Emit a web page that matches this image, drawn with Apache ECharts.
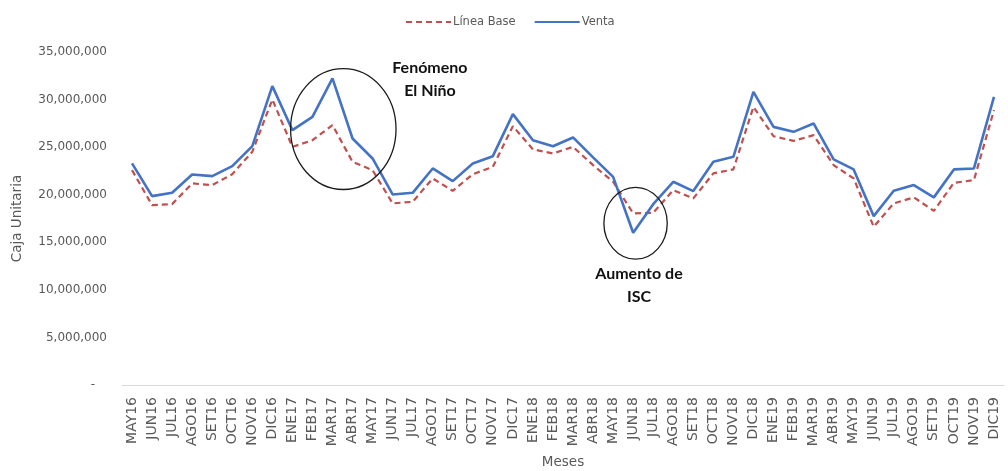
<!DOCTYPE html>
<html>
<head>
<meta charset="utf-8">
<script src="https://cdn.jsdelivr.net/npm/echarts@6/dist/echarts.min.js"></script>
<style>
  html, body { margin: 0; padding: 0; background: #ffffff; }
  #chart { width: 1008px; height: 471px; }
</style>
</head>
<body>
<div id="chart"></div>
<script>
// Meses (eje X)
const meses = [
  'MAY16','JUN16','JUL16','AGO16','SET16','OCT16','NOV16','DIC16',
  'ENE17','FEB17','MAR17','ABR17','MAY17','JUN17','JUL17','AGO17','SET17','OCT17','NOV17','DIC17',
  'ENE18','FEB18','MAR18','ABR18','MAY18','JUN18','JUL18','AGO18','SET18','OCT18','NOV18','DIC18',
  'ENE19','FEB19','MAR19','ABR19','MAY19','JUN19','JUL19','AGO19','SET19','OCT19','NOV19','DIC19'
];

// Línea Base (cajas unitarias)
const lineaBase = [
  22580000, 18910000, 19010000, 21190000, 21010000, 22160000, 24510000, 30010000,
  25030000, 25730000, 27310000, 23460000, 22580000, 19090000, 19250000, 21710000, 20410000, 22160000, 22930000, 27210000,
  24760000, 24340000, 25030000, 23110000, 21360000, 18040000, 18100000, 20480000, 19610000, 22240000, 22660000, 29230000,
  26150000, 25660000, 26260000, 23110000, 21710000, 16630000, 19090000, 19720000, 18310000, 21250000, 21530000, 28890000
];

// Venta (cajas unitarias)
const venta = [
  23290000, 19850000, 20200000, 22130000, 21950000, 23000000, 25100000, 31410000,
  26790000, 28180000, 32220000, 25910000, 23810000, 20030000, 20200000, 22760000, 21430000, 23290000, 24050000, 28470000,
  25730000, 25100000, 26020000, 23920000, 21880000, 16000000, 19010000, 21360000, 20380000, 23460000, 23980000, 30810000,
  27130000, 26610000, 27490000, 23710000, 22660000, 17750000, 20410000, 21010000, 19720000, 22660000, 22760000, 30280000
];

// Eje Y
const yMin = 0;
const yMax = 35000000;
const yStep = 5000000;

// Notas sobre el gráfico, ubicadas en coordenadas de datos (índice de mes, valor)
const elipses = [
  { idx: 10.54, val: 26900000, rxIdx: 2.63, ryVal: 6350000 },
  { idx: 25.12, val: 17000000, rxIdx: 1.58, ryVal: 3780000 }
];
const notas = [
  { idx: 14.86, val: 32150000, text: 'Fenómeno\nEl Niño' },
  { idx: 25.29, val: 10450000, text: 'Aumento de\nISC' }
];

const gris = '#595959';
const chart = echarts.init(document.getElementById('chart'), null, { renderer: 'canvas' });

chart.setOption({
  animation: false,
  backgroundColor: '#ffffff',
  textStyle: { fontFamily: 'DejaVu Sans' },
  legend: {
    left: 400,
    top: 11,
    itemWidth: 45,
    itemHeight: 14,
    itemGap: 18,
    // sólo la línea en la muestra de la leyenda, sin símbolo
    itemStyle: { opacity: 0 },
    textStyle: { color: gris, fontSize: 11.5, fontFamily: 'DejaVu Sans', padding: [0, 0, 0, -3] },
    data: ['Línea Base', 'Venta']
  },
  grid: { left: 122, right: 4, top: 52, bottom: 86, outerBoundsMode: 'none', containLabel: false },
  xAxis: {
    type: 'category',
    data: meses,
    boundaryGap: true,
    name: 'Meses',
    nameLocation: 'middle',
    nameGap: 70,
    nameTextStyle: { color: gris, fontSize: 13.5, fontFamily: 'DejaVu Sans' },
    axisLine: { show: true, lineStyle: { color: '#d9d9d9', width: 1 } },
    axisTick: { show: false },
    axisLabel: { interval: 0, rotate: 90, margin: 12, color: gris, fontSize: 14, fontFamily: 'DejaVu Sans' },
    splitLine: { show: false }
  },
  yAxis: {
    type: 'value',
    min: yMin,
    max: yMax,
    interval: yStep,
    name: 'Caja Unitaria',
    nameLocation: 'middle',
    nameGap: 98,
    nameTextStyle: { color: gris, fontSize: 13.5, fontFamily: 'DejaVu Sans' },
    axisLine: { show: false },
    axisTick: { show: false },
    splitLine: { show: false },
    axisLabel: {
      margin: 15,
      color: gris,
      fontSize: 12,
      fontFamily: 'DejaVu Sans',
      formatter: function (v) {
        return v === 0 ? '{z|-}' : v.toLocaleString('en-US');
      },
      rich: { z: { padding: [0, 12, 0, 0], color: gris, fontSize: 12 } }
    }
  },
  series: [
    {
      name: 'Línea Base',
      type: 'line',
      data: lineaBase,
      symbol: 'none',
      lineStyle: { color: '#C0504D', width: 2.2, type: [6, 4] },
      itemStyle: { color: '#C0504D' },
      z: 2
    },
    {
      name: 'Venta',
      type: 'line',
      data: venta,
      symbol: 'none',
      lineStyle: { color: '#4472C4', width: 2.6 },
      itemStyle: { color: '#4472C4' },
      z: 3
    }
  ]
});

// Conversión de coordenadas de datos a píxeles (admite índices fraccionarios de mes)
function aPixel(idx, val) {
  const p0 = chart.convertToPixel({ gridIndex: 0 }, [0, val]);
  const p1 = chart.convertToPixel({ gridIndex: 0 }, [1, val]);
  return [p0[0] + (p1[0] - p0[0]) * idx, p0[1]];
}

const graficos = [];
elipses.forEach(function (e) {
  const c = aPixel(e.idx, e.val);
  const borde = aPixel(e.idx + e.rxIdx, e.val + e.ryVal);
  graficos.push({
    type: 'ellipse',
    shape: { cx: c[0], cy: c[1], rx: Math.abs(borde[0] - c[0]), ry: Math.abs(c[1] - borde[1]) },
    style: { fill: 'none', stroke: '#1a1a1a', lineWidth: 1.3 },
    z: 100
  });
});
notas.forEach(function (n) {
  const p = aPixel(n.idx, n.val);
  graficos.push({
    type: 'text',
    x: p[0],
    y: p[1],
    style: {
      text: n.text,
      align: 'center',
      verticalAlign: 'middle',
      fontFamily: 'Lato',
      fontWeight: 'bold',
      fontSize: 16,
      lineHeight: 23,
      fill: '#111111'
    },
    z: 100
  });
});
chart.setOption({ graphic: graficos });
</script>
</body>
</html>
